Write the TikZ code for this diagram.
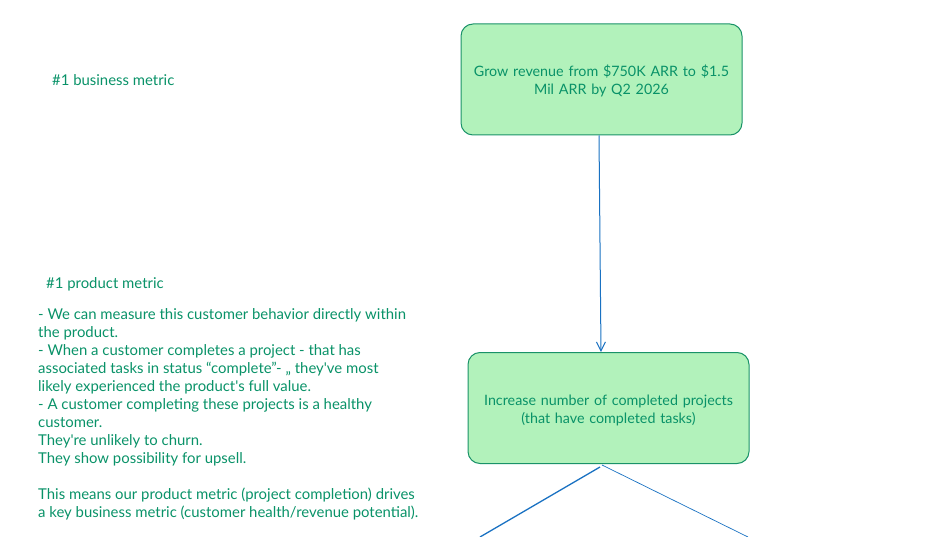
\documentclass[tikz,border=0pt]{standalone}
\usepackage{fontspec}
\setmainfont{Lato}[Ligatures=TeXOff]
\usetikzlibrary{arrows.meta}
\definecolor{txt}{HTML}{099268}
\definecolor{boxfill}{HTML}{B2F2BB}
\definecolor{boxline}{HTML}{199268}
\definecolor{arr}{HTML}{1971C2}
\newcommand\lowerby{\rule{0pt}{15pt}}
\tikzset{
  goal/.style={draw=boxline, fill=boxfill, line width=1pt, rounded corners=12pt, minimum width=281pt, minimum height=111pt, text width=270pt, align=center, text=txt, font=\fontsize{14.3}{17.8}\selectfont, inner sep=0pt},
  note/.style={text=txt, font=\fontsize{14.9}{18}\selectfont, inner sep=0pt, anchor=west},
  conn/.style={draw=arr, line width=1pt},
}
\begin{document}
\begin{tikzpicture}[x=1pt,y=-1pt]
\useasboundingbox (0,0) rectangle (928,537);
\node[goal] (g1) at (601.5,79.5) {\lowerby Grow revenue from \$750K ARR to \$1.5\\Mil ARR by Q2 2026};
\node[goal] (g2) at (608.5,408) {\lowerby Increase number of completed projects\\(that have completed tasks)};
\node[note] (bm) at (52,80) {\#1 business metric};
\node[note] (pm) at (46,284.5) {\#1 product metric};
\node[note, anchor=north west, align=left] (para) at (38,308) {- We can measure this customer behavior directly within\\the product.\\- When a customer completes a project - that has\\associated tasks in status “complete”- „ they've most\\likely experienced the product's full value.\\- A customer completing these projects is a healthy\\customer.\\They're unlikely to churn.\\They show possibility for upsell.\\[18pt]This means our product metric (project completion) drives\\a key business metric (customer health/revenue potential).};
\coordinate (l1) at (480,537);
\coordinate (r1) at (748,537);
\draw[conn, -{Straight Barb[length=9pt,width=9pt]}] (g1.south -| 599,0) -- (g2.north -| 601,0);
\draw[conn, line width=1.3pt] (600,467) -- (l1);
\draw[conn, line width=0.7pt] (602,465) -- (r1);
\end{tikzpicture}
\end{document}
